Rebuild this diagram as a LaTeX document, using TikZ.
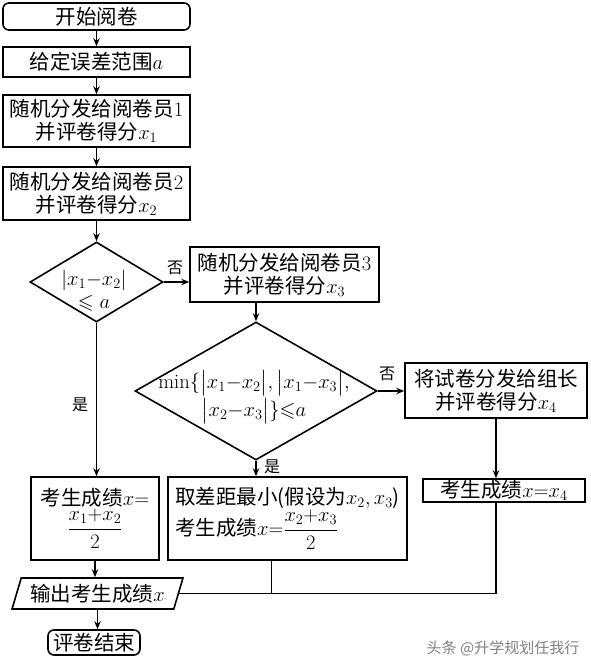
\RequirePackage{fix-cm}
\documentclass[tikz,border=0pt]{standalone}
\usepackage{amsmath,amssymb}
\usepackage{fontspec}
\newfontfamily\cjk{Noto Sans CJK SC}
\usepackage{tikz}
\usetikzlibrary{shapes.geometric, arrows.meta, positioning, calc}
\newcommand{\bodyfont}{\cjk\fontsize{20.5}{23}\selectfont}
\tikzset{
  % Box styles
  startbox/.style={rectangle, rounded corners=6pt, draw, line width=1.6pt, inner sep=0pt, font=\bodyfont, align=center},
  processbox/.style={rectangle, draw, line width=1.6pt, inner sep=0pt, font=\bodyfont, align=center},
  decisionbox/.style={diamond, draw, line width=1.6pt, inner sep=0pt},
  iobox/.style={trapezium, trapezium left angle=67, trapezium right angle=113, trapezium stretches=true, draw, line width=1.6pt, inner sep=0pt, font=\bodyfont},
  % Text styles
  plaintext/.style={font=\bodyfont, align=center, inner sep=0pt},
  labeltext/.style={font=\cjk\fontsize{16}{18}\selectfont, inner sep=0pt},
  % Arrow styles
  arrow/.style={-{Stealth[length=8pt,width=6.5pt]}, line width=1.3pt},
  joinline/.style={line width=1.3pt}
}
\begin{document}
\begin{tikzpicture}[x=1pt, y=-1pt]
  \useasboundingbox (0,0) rectangle (590,660);

  % Start and range
  \node[startbox, minimum width=187pt, minimum height=27pt] (start) at (96.5,16.5) {开始阅卷};
  \node[processbox, minimum width=187pt, minimum height=30pt] (range) at (96.5,62) {给定误差范围$a$};

  % First two graders
  \node[processbox, minimum width=187pt, minimum height=52pt] (grade1) at (96.5,121) {随机分发给阅卷员$1$\\并评卷得分$x_1$};
  \node[processbox, minimum width=187pt, minimum height=53pt] (grade2) at (96.5,193.5) {随机分发给阅卷员$2$\\并评卷得分$x_2$};

  % First check
  \node[decisionbox, minimum width=133pt, minimum height=80pt] (check1) at (96.5,282) {};
  \node[plaintext] (check1txt) at (94,291) {$|x_1{-}x_2|$\\$\leqslant a$};

  % Third grader
  \node[processbox, minimum width=189pt, minimum height=55pt] (grade3) at (284.5,274.5) {随机分发给阅卷员$3$\\并评卷得分$x_3$};

  % Second check
  \node[decisionbox, minimum width=242pt, minimum height=138pt] (check2) at (256,391) {};
  \node[plaintext, font=\cjk\fontsize{20.5}{28}\selectfont] (check2txt) at (254,397) {$\min\{\bigl|x_1{-}x_2\bigr|,\bigl|x_1{-}x_3\bigr|,$\\$\bigl|x_2{-}x_3\bigr|\}{\leqslant}a$};

  % Group leader
  \node[processbox, minimum width=182pt, minimum height=55pt] (leader) at (496,390.5) {将试卷分发给组长\\并评卷得分$x_4$};

  % Scores
  \node[processbox, minimum width=128pt, minimum height=83pt] (avg12) at (95,518.5) {考生成绩$x{=}$\\$\dfrac{x_1{+}x_2}{2}$};
  \node[processbox, minimum width=239pt, minimum height=83pt, align=left] (avg23) at (287.5,518.5) {取差距最小(假设为$x_2,x_3$)\\考生成绩$x{=}\dfrac{x_2{+}x_3}{2}$};
  \node[processbox, minimum width=162pt, minimum height=23pt] (final4) at (504,490.5) {考生成绩$x{=}x_4$};

  % Output and end
  \node[iobox, minimum width=171pt, minimum height=31pt] (output) at (97.5,593.5) {输出考生成绩$x$};
  \node[startbox, minimum width=92pt, minimum height=25pt] (finish) at (94,642.5) {评卷结束};

  % Branch labels
  \node[labeltext] (yes1) at (80,405) {是};
  \node[labeltext] (no1) at (175,268) {否};
  \node[labeltext] (no2) at (387,374) {否};
  \node[labeltext] (yes2) at (272,467) {是};

  % Watermark
  \node[font=\cjk\fontsize{15}{18}\selectfont, text=gray] (mark) at (503,648) {头条 @升学规划任我行};

  % Arrows
  \draw[arrow] (start) -- (range);
  \draw[arrow] (range) -- (grade1);
  \draw[arrow] (grade1) -- (grade2);
  \draw[arrow] (grade2) -- (check1);
  \draw[arrow] (check1.east) -- (check1.east -| grade3.west);
  \draw[arrow] (check1.south) -- (check1.south |- avg12.north);
  \draw[arrow] (check2.north |- grade3.south) -- (check2.north);
  \draw[arrow] (check2.east) -- (check2.east -| leader.west);
  \draw[arrow] (check2.south) -- (check2.south |- avg23.north);
  \draw[arrow] (leader.south) -- (leader.south |- final4.north);
  \draw[arrow] (avg12.south) -- (avg12.south |- output.north);
  \draw[arrow] (output.south) -- (output.south |- finish.north);
  \draw[joinline] (final4.south -| leader.south) |- (output.east);
  \draw[joinline] ([xshift=-16pt]avg23.south) |- (output.east);
\end{tikzpicture}
\end{document}
